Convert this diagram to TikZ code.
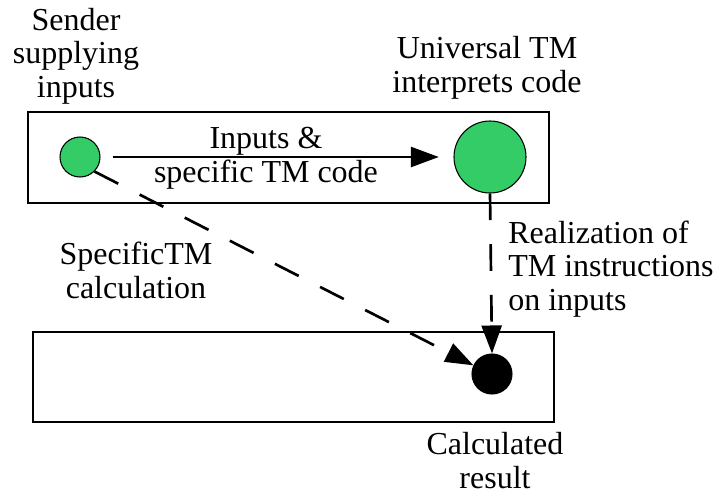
\documentclass[tikz,border=0pt]{standalone}
\usepackage{fontspec}
\setmainfont{Liberation Serif}
\usetikzlibrary{arrows.meta}
\definecolor{dotgreen}{RGB}{51,204,102}
\tikzset{
  frame/.style={line width=2pt},
  dot/.style={circle,draw,line width=0.8pt,inner sep=0pt},
  lbl/.style={align=center,anchor=base,font=\fontsize{24}{25}\selectfont,inner sep=0pt},
  link/.style={line width=2pt,-{Triangle[length=21pt,width=15pt]}},
  dashlink/.style={link,dash pattern=on 20pt off 18pt}
}
\begin{document}
\begin{tikzpicture}[x=0.75pt,y=-0.75pt]
\useasboundingbox (0,0) rectangle (717,494);
% frames
\draw[frame] (28,112) rectangle (549,203);
\draw[frame] (33,332) rectangle (554,422);
% dots
\node[dot,fill=dotgreen,minimum size=30pt] (sender) at (80,157) {};
\node[dot,fill=dotgreen,minimum size=54pt] (utm) at (490,157) {};
\node[dot,fill=black,minimum size=30pt] (result) at (492,374) {};
% connectors
\draw[link,shorten <=9pt,shorten >=11pt] (sender) -- (utm);
\draw[dashlink] (sender.-45) -- (result.155);
\draw[dashlink] (utm.south) -- (result.north);
% labels (placed by the baseline of their last line)
\node[lbl] (senderlbl) at (76,97) {Sender\\supplying\\inputs};
\node[lbl] (utmlbl) at (487,92) {Universal TM\\interprets code};
\node[lbl,font=\fontsize{24}{25}\selectfont] (inputslbl) at (266,182) {Inputs \&\\specific TM code};
\node[lbl] (calclbl) at (136,298) {SpecificTM\\calculation};
\node[lbl,align=left,anchor=base west] (reallbl) at (508,310) {Realization of\\TM instructions\\on inputs};
\node[lbl] (resultlbl) at (495,488) {Calculated\\result};
\end{tikzpicture}
\end{document}
